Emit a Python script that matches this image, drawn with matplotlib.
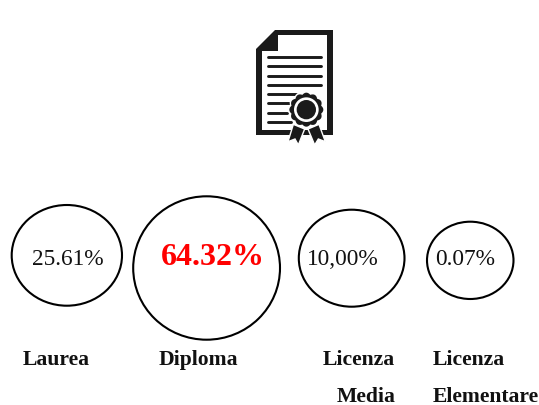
import numpy as np
import matplotlib
matplotlib.use("Agg")
import matplotlib.pyplot as plt
from matplotlib.patches import Ellipse, Polygon, Circle

# data
categories = ["Laurea", "Diploma", "Licenza\nMedia", "Licenza\nElementare"]
value_labels = ["25.61%", "64.32%", "10,00%", "0.07%"]

# layout (pixel coordinates of the 539x406 canvas)
circle_x0 = [11.7, 133.2, 298.8, 427]
circle_x1 = [122, 280, 404.5, 513.5]
circle_y0 = [206, 197.3, 210.7, 222.7]
circle_y1 = [306.7, 340.7, 307.7, 300]
value_x = [67.6, 213.2, 342.8, 465.3]
cat_pos = [(56.4, 365, "center"), (198.7, 365, "center"), (359, 365, "center"), (433, 365, "left")]
cat_line2 = [None, None, (395.5, 402, "right"), (433, 402, "left")]

plt.rcParams["font.family"] = ["Liberation Serif", "DejaVu Serif"]
fig = plt.figure(figsize=(5.39, 4.06), dpi=100)
ax = fig.add_axes([0, 0, 1, 1])
ax.set_xlim(0, 539)
ax.set_ylim(406, 0)
ax.axis("off")

# bubbles
for i, lab in enumerate(value_labels):
    ax.add_patch(Ellipse(((circle_x0[i] + circle_x1[i]) / 2, (circle_y0[i] + circle_y1[i]) / 2),
                         circle_x1[i] - circle_x0[i], circle_y1[i] - circle_y0[i],
                         fill=False, ec="black", lw=1.5))
    big = i == 1
    ax.text(value_x[i], 265.2, lab, ha="center", va="baseline",
            fontsize=23 if big else 16.8,
            fontweight="bold" if big else "normal",
            color="#ff0000" if big else "#111111")

# category labels
for i, name in enumerate(categories):
    parts = name.split("\n")
    x, y, ha = cat_pos[i]
    ax.text(x, y, parts[0], ha=ha, va="baseline", fontsize=15.6, fontweight="bold", color="#111111")
    if cat_line2[i]:
        x2, y2, ha2 = cat_line2[i]
        ax.text(x2, y2, parts[1], ha=ha2, va="baseline", fontsize=15.6, fontweight="bold", color="#111111")

# certificate icon, drawn in the 3x crop coordinates
def P(pts):
    return [(230 + a / 3, b / 3) for a, b in pts]

K = "#1a1a1a"
ax.add_patch(Polygon(P([(135, 92), (308, 92), (308, 408), (78, 408), (78, 150)]), fc=K, ec="none"))
ax.add_patch(Polygon(P([(143, 108), (292, 108), (292, 392), (95, 392), (95, 155), (143, 155)]), fc="white", ec="none"))
for yy, x1 in zip([174, 202, 230, 258, 285, 313, 341, 368], [274, 274, 274, 274, 197, 177, 172, 182]):
    ax.plot([230 + 113 / 3, 230 + x1 / 3], [yy / 3, yy / 3], color=K, lw=2.1, solid_capstyle="round")

# ribbons
for pts in ([(190, 376), (224, 390), (205, 438), (195, 420), (174, 428)],
            [(234, 390), (267, 376), (286, 428), (265, 420), (254, 438)]):
    ax.add_patch(Polygon(P(pts), fc=K, ec="white", lw=1.0, zorder=3))

# seal
th = np.linspace(0, 2 * np.pi, 361)
rad = (46 + 5 * np.abs(np.cos(6 * th))) / 3
sx, sy = 230 + 229 / 3, 332 / 3
ax.fill(sx + (rad + 1.5) * np.cos(th), sy + (rad + 1.5) * np.sin(th), color="white", zorder=4, lw=0)
ax.fill(sx + rad * np.cos(th), sy + rad * np.sin(th), color=K, zorder=5, lw=0)
ax.add_patch(Circle((sx, sy), 37 / 3, fc="white", ec="none", zorder=6))
ax.add_patch(Circle((sx, sy), 29 / 3, fc=K, ec="none", zorder=7))

fig.savefig("out.png", dpi=100)
